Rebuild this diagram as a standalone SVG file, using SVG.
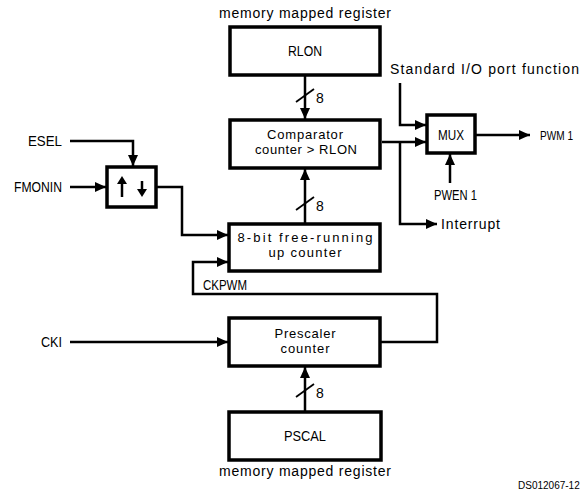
<svg xmlns="http://www.w3.org/2000/svg" width="582" height="495" viewBox="0 0 582 495">
<style>
.box{fill:#fff;stroke:#000;stroke-width:3.5}
.ln{fill:none;stroke:#000;stroke-width:2.5}
.bus{fill:none;stroke:#000;stroke-width:1.8}
text{font-family:"Liberation Sans",Arial,sans-serif;font-size:14px;fill:#000}
.c{text-anchor:middle}
.s{font-size:13px}
.ds{font-size:10px}
</style>
<defs>
<marker id="ah" markerUnits="userSpaceOnUse" markerWidth="12" markerHeight="10" refX="11" refY="5" orient="auto">
<path d="M0,0 L11,5 L0,10 Z" fill="#000"/>
</marker>
</defs>
<rect width="582" height="495" fill="#fff"/>

<g id="connectors">
<path class="ln" d="M305,75 V119" marker-end="url(#ah)"/>
<path class="ln" d="M305,224 V169" marker-end="url(#ah)"/>
<path class="ln" d="M305,412 V367" marker-end="url(#ah)"/>
<path class="ln" d="M70,141 H133 V166" marker-end="url(#ah)"/>
<path class="ln" d="M70,187 H106" marker-end="url(#ah)"/>
<path class="ln" d="M156,187 H182 V235 H228" marker-end="url(#ah)"/>
<path class="ln" d="M70,342 H228" marker-end="url(#ah)"/>
<path class="ln" d="M380,342 H437 V294 H193 V262 H228" marker-end="url(#ah)"/>
<path class="ln" d="M382,142 H426" marker-end="url(#ah)"/>
<path class="ln" d="M400,142 V224 H437" marker-end="url(#ah)"/>
<path class="ln" d="M400,83 V125 H426" marker-end="url(#ah)"/>
<path class="ln" d="M450,183 V154" marker-end="url(#ah)"/>
<path class="ln" d="M475,135 H530" marker-end="url(#ah)"/>
<line class="bus" x1="296" y1="102" x2="314" y2="89"/>
<line class="bus" x1="296" y1="210" x2="314" y2="197"/>
<line class="bus" x1="296" y1="397" x2="314" y2="384"/>
</g>

<g id="rlon">
<rect class="box" x="230" y="27" width="150" height="48"/>
<text class="c" x="305" y="56" textLength="34" lengthAdjust="spacingAndGlyphs">RLON</text>
</g>
<text class="c" x="305" y="18" textLength="172" lengthAdjust="spacing">memory mapped register</text>
<text x="316" y="103">8</text>

<g id="comparator">
<rect class="box" x="230" y="120" width="150" height="48"/>
<text class="c s" x="305" y="139" textLength="76" lengthAdjust="spacing">Comparator</text>
<text class="c s" x="306" y="154" textLength="102" lengthAdjust="spacing">counter &gt; RLON</text>
</g>

<g id="mux">
<rect class="box" x="427" y="115" width="48" height="38"/>
<text class="c" x="451" y="140" textLength="26" lengthAdjust="spacingAndGlyphs">MUX</text>
</g>
<text x="390" y="74" textLength="189" lengthAdjust="spacing">Standard I/O port function</text>
<text class="s" x="540" y="140" textLength="33" lengthAdjust="spacingAndGlyphs">PWM 1</text>
<text x="434" y="200" textLength="43" lengthAdjust="spacingAndGlyphs">PWEN 1</text>
<text x="441" y="229" textLength="59" lengthAdjust="spacing">Interrupt</text>

<g id="edge">
<rect class="box" x="107" y="167" width="49" height="40"/>
<path class="ln" d="M122,197 V183"/>
<path d="M117,184 L122,176 L127,184 Z" fill="#000"/>
<path class="ln" d="M142,181 V190"/>
<path d="M137,189 L142,197 L147,189 Z" fill="#000"/>
</g>
<text x="28" y="146" textLength="34" lengthAdjust="spacingAndGlyphs">ESEL</text>
<text x="14" y="192" textLength="48" lengthAdjust="spacingAndGlyphs">FMONIN</text>

<g id="counter">
<rect class="box" x="229" y="224" width="151" height="47"/>
<text class="c s" x="305" y="242" textLength="135" lengthAdjust="spacing">8-bit free-running</text>
<text class="c s" x="305" y="257" textLength="73" lengthAdjust="spacing">up counter</text>
</g>
<text x="316" y="211">8</text>
<text x="203" y="290" textLength="44" lengthAdjust="spacingAndGlyphs">CKPWM</text>

<g id="prescaler">
<rect class="box" x="229" y="318" width="151" height="48"/>
<text class="c s" x="305" y="338" textLength="61" lengthAdjust="spacing">Prescaler</text>
<text class="c s" x="305" y="353" textLength="49" lengthAdjust="spacing">counter</text>
</g>
<text x="41" y="347" textLength="21" lengthAdjust="spacingAndGlyphs">CKI</text>

<g id="pscal">
<rect class="box" x="229" y="412" width="152" height="48"/>
<text class="c" x="305" y="441" textLength="42" lengthAdjust="spacingAndGlyphs">PSCAL</text>
</g>
<text x="316" y="398">8</text>
<text class="c" x="305" y="476" textLength="172" lengthAdjust="spacing">memory mapped register</text>
<text class="ds" x="518" y="489">DS012067-12</text>
</svg>
